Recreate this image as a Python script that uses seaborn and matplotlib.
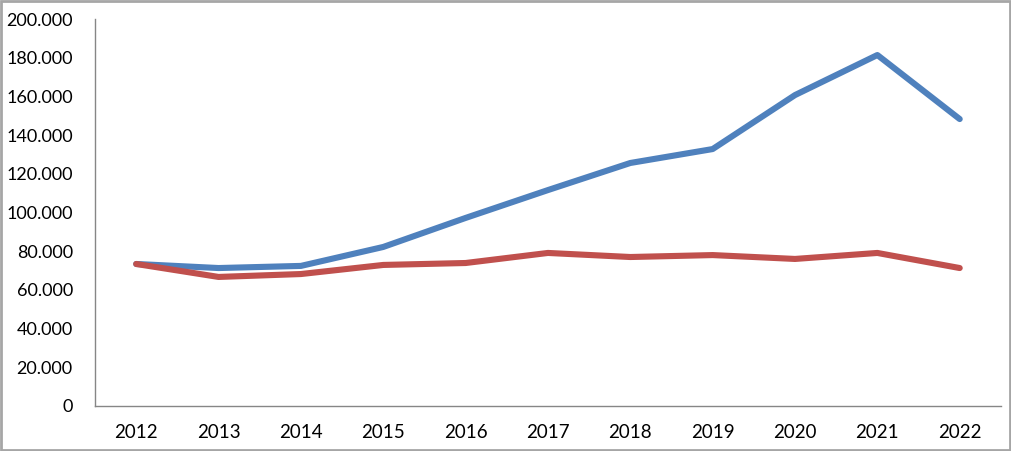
import pandas as pd
import matplotlib.pyplot as plt
import seaborn as sns
from matplotlib.ticker import FuncFormatter, FixedLocator

# values
years = ['2012', '2013', '2014', '2015', '2016', '2017', '2018', '2019', '2020', '2021', '2022']
blue_vals = [73400, 71300, 72400, 82200, 97200, 111600, 125600, 132800, 160700, 181400, 148300]
red_vals = [73400, 66700, 68200, 72900, 73900, 79100, 77000, 78000, 76000, 79100, 71300]

df = pd.DataFrame({
    'x': list(range(len(years))) * 2,
    'value': blue_vals + red_vals,
    'series': ['blue'] * len(years) + ['red'] * len(years),
})

sns.set_style('white')
plt.rcParams['font.family'] = ['Lato', 'DejaVu Sans']

fig = plt.figure(figsize=(10.11, 4.51), dpi=100)
ax = fig.add_axes([0.094, 0.0998, 0.896, 0.858])

palette = {'blue': '#4F81BD', 'red': '#C0504D'}
sns.lineplot(data=df, x='x', y='value', hue='series', palette=palette,
             linewidth=4.4, legend=False, ax=ax)
for ln in ax.lines:
    ln.set_solid_capstyle('round')
    ln.set_solid_joinstyle('round')

ax.set_xlim(-0.5, len(years) - 0.5)
ax.set_ylim(0, 200000)
ax.set_xlabel('')
ax.set_ylabel('')

# category labels centred, tick marks between categories
ax.set_xticks(range(len(years)))
ax.set_xticklabels(years)
ax.xaxis.set_minor_locator(FixedLocator([i - 0.5 for i in range(len(years) + 1)]))
ax.tick_params(axis='x', which='major', length=0, pad=13, labelsize=13.5)
ax.tick_params(axis='x', which='minor', length=6, width=1, color='#868686', direction='out')

ax.set_yticks(range(0, 200001, 20000))
ax.yaxis.set_major_formatter(FuncFormatter(lambda v, p: '0' if v == 0 else f'{int(v):,}'.replace(',', '.')))
ax.tick_params(axis='y', length=6, width=1, color='#868686', direction='out', pad=10, labelsize=13)
ax.tick_params(axis='both', labelcolor='black')

for s in ['top', 'right']:
    ax.spines[s].set_visible(False)
for s in ['left', 'bottom']:
    ax.spines[s].set_color('#868686')
    ax.spines[s].set_linewidth(1)

# thin grey frame around the whole picture
fig.patches.append(plt.Rectangle((0.001, 0.002), 0.998, 0.996, transform=fig.transFigure,
                                 fill=False, edgecolor='#a6a6a6', linewidth=2))

fig.savefig('out.png', dpi=100)
